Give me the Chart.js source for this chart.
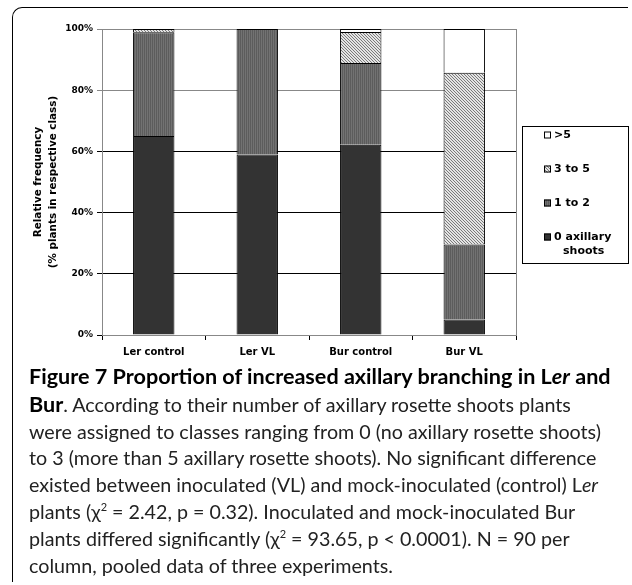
<!DOCTYPE html>
<html>
<head>
<meta charset="utf-8">
<script src="https://cdn.jsdelivr.net/npm/chart.js@4"></script>
<style>
  body { margin: 0; background: #fff; }
  #wrap { position: relative; width: 632px; height: 585px; overflow: hidden; }
  #frame { position: absolute; left: 12px; top: 7px; width: 615px; height: 574px;
           border-top: 1.5px solid #000; border-left: 1.5px solid #000; border-top-left-radius: 10px; }
  #chart { position: absolute; left: 0; top: 0; }
  #caption { position: absolute; left: 29px; top: 363px; width: 600px;
             font-family: Lato, sans-serif; font-size: 19.7px; line-height: 26.8px; color: #222; white-space: nowrap; }
  #caption b { font-size: 21.6px; color: #000; }
  #caption sup { font-size: 11px; line-height: 0; }
</style>
</head>
<body>
<div id="wrap">
  <div id="frame"></div>
  <canvas id="chart" width="632" height="370"></canvas>
  <div id="caption">
    <b>Figure 7 Proportion of increased axillary branching in L<i>er</i> and</b><br>
    <b>Bur</b>. According to their number of axillary rosette shoots plants<br>
    were assigned to classes ranging from 0 (no axillary rosette shoots)<br>
    to 3 (more than 5 axillary rosette shoots). No significant difference<br>
    existed between inoculated (VL) and mock-inoculated (control) L<i>er</i><br>
    plants (&chi;<sup>2</sup> = 2.42, p = 0.32). Inoculated and mock-inoculated Bur<br>
    plants differed significantly (&chi;<sup>2</sup> = 93.65, p &lt; 0.0001). N = 90 per<br>
    column, pooled data of three experiments.
  </div>
</div>
<script>
// columns
var categories = ['Ler control', 'Ler VL', 'Bur control', 'Bur VL'];
// classes of axillary shoots, bottom of stack first
var classNames = ['0 axillary shoots', '1 to 2', '3 to 5', '>5'];
var zeroShoots = [65, 59, 62.2, 5.1];
var oneToTwo = [33.9, 41, 26.7, 24.5];
var threeToFive = [1.1, 0, 10.1, 56.1];
var moreThanFive = [0, 0, 1, 14.3];
var yTicks = [0, 20, 40, 60, 80, 100];

function makePattern(w, h, draw) {
    var c = document.createElement('canvas');
    c.width = w; c.height = h;
    var g = c.getContext('2d');
    draw(g);
    return g.createPattern(c, 'repeat');
}

var stripes = makePattern(2, 2, function (g) {
    g.fillStyle = '#5c5c5c'; g.fillRect(0, 0, 1, 2);
    g.fillStyle = '#727272'; g.fillRect(1, 0, 1, 2);
});
var hatch = makePattern(3, 3, function (g) {
    g.fillStyle = '#e4e4e4'; g.fillRect(0, 0, 3, 3);
    g.fillStyle = '#7a7a7a';
    for (var i = 0; i < 3; i++) g.fillRect(i, i, 1, 1);
});

var fills = ['#333333', stripes, hatch, '#ffffff'];
var series = [zeroShoots, oneToTwo, threeToFive, moreThanFive];

var boxLegend = {
    id: 'boxLegend',
    afterDraw: function (chart) {
        var ctx = chart.ctx;
        var area = chart.chartArea;
        ctx.save();
        // right frame of the plot
        ctx.strokeStyle = '#888';
        ctx.lineWidth = 1;
        ctx.beginPath();
        ctx.moveTo(Math.round(area.right) + 0.5, area.top);
        ctx.lineTo(Math.round(area.right) + 0.5, area.bottom);
        ctx.stroke();

        // legend box
        ctx.strokeStyle = '#000';
        ctx.strokeRect(522.5, 126.5, 106, 137);
        ctx.font = 'bold 11px "DejaVu Sans"';
        ctx.textBaseline = 'middle';
        ctx.fillStyle = '#000';
        var ds = chart.data.datasets.slice().reverse();
        var y = 135;
        ds.forEach(function (d) {
            ctx.fillStyle = d.backgroundColor;
            ctx.fillRect(544, y - 3.5, 7, 7);
            ctx.strokeStyle = '#000';
            ctx.strokeRect(544.5, y - 3, 6, 6);
            ctx.fillStyle = '#000';
            var words = d.label;
            if (ctx.measureText(words).width > 72) {
                var cut = words.lastIndexOf(' ');
                ctx.fillText(words.slice(0, cut), 554, y);
                ctx.fillText(words.slice(cut + 1), 563, y + 14);
            } else {
                ctx.fillText(words, 554, y);
            }
            y += 34;
        });
        ctx.restore();
    }
};

new Chart(document.getElementById('chart'), {
    type: 'bar',
    data: {
        labels: categories,
        datasets: series.map(function (vals, i) {
            return {
                label: classNames[i],
                data: vals,
                backgroundColor: fills[i],
                borderColor: '#000',
                borderWidth: 1,
                borderSkipped: 'bottom',
                categoryPercentage: 0.4,
                barPercentage: 1
            };
        })
    },
    options: {
        responsive: false,
        animation: false,
        layout: { padding: { top: 29, right: 116, left: 0, bottom: 0 } },
        plugins: { legend: { display: false }, tooltip: { enabled: false } },
        scales: {
            x: {
                stacked: true,
                grid: { offset: true, drawOnChartArea: false, tickLength: 5, tickColor: '#000' },
                border: { color: '#888' },
                ticks: { color: '#000', padding: 6, font: { family: 'DejaVu Sans', weight: 'bold', size: 10 } },
                afterFit: function (s) { s.height = 35; }
            },
            y: {
                stacked: true,
                min: 0,
                max: 100,
                afterBuildTicks: function (s) { s.ticks = yTicks.map(function (v) { return { value: v }; }); },
                ticks: {
                    color: '#000', padding: 4,
                    font: { family: 'DejaVu Sans', weight: 'bold', size: 9 },
                    callback: function (v) { return v + '%'; }
                },
                grid: {
                    tickLength: 5,
                    color: function (c) { return (c.tick && (c.tick.value === 80 || c.tick.value === 100)) ? '#888' : '#000'; }
                },
                border: { color: '#888' },
                title: {
                    display: true,
                    text: ['Relative frequency', '(% plants in respective class)'],
                    color: '#000',
                    font: { family: 'DejaVu Sans', weight: 'bold', size: 10.4, lineHeight: 1.4 },
                    padding: { top: 31, bottom: 0 }
                },
                afterFit: function (s) { s.width = 102; }
            }
        }
    },
    plugins: [boxLegend]
});
</script>
</body>
</html>
